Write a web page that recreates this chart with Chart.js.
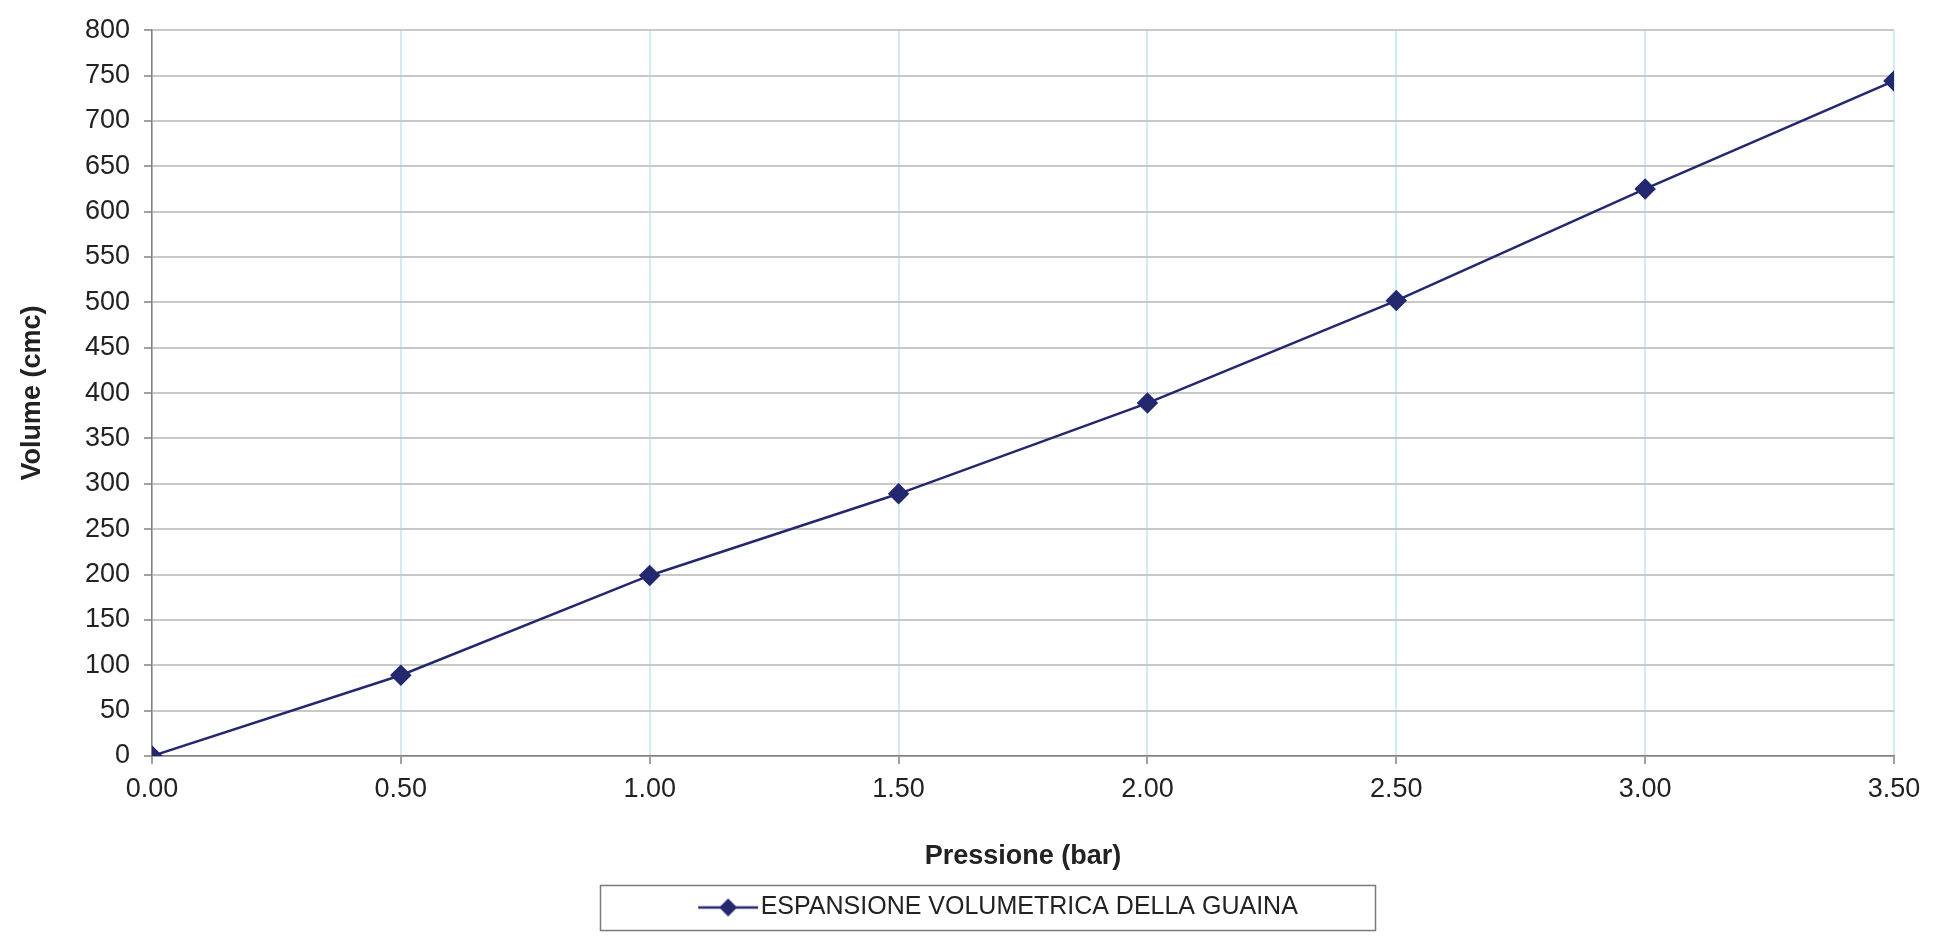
<!DOCTYPE html>
<html>
<head>
<meta charset="utf-8">
<script src="https://cdn.jsdelivr.net/npm/chart.js@4/dist/chart.umd.min.js"></script>
<style>
  body { margin: 0; background: #fff; }
</style>
</head>
<body>
<canvas id="chart" width="1944" height="938"></canvas>
<script>
// data
const pressure = [0, 0.5, 1.0, 1.5, 2.0, 2.5, 3.0, 3.5];
const volume = [0, 89, 199, 289, 389, 502, 625, 744];
const seriesName = 'ESPANSIONE VOLUMETRICA DELLA GUAINA';
const xTitle = 'Pressione (bar)';
const yTitle = 'Volume (cmc)';

const navy = '#24286f';
const fontFamily = '"Liberation Sans", Arial, sans-serif';

// legend icon: short line with a diamond in the middle
// (left part left empty so the icon sits closer to the text)
const icon = document.createElement('canvas');
icon.width = 92;
icon.height = 20;
(function () {
    const c = icon.getContext('2d');
    c.strokeStyle = navy;
    c.lineWidth = 2.5;
    c.beginPath();
    c.moveTo(32, 10);
    c.lineTo(92, 10);
    c.stroke();
    c.fillStyle = navy;
    c.beginPath();
    c.moveTo(62, 1);
    c.lineTo(71, 10);
    c.lineTo(62, 19);
    c.lineTo(53, 10);
    c.closePath();
    c.fill();
})();

// box round the legend like in the original
const legendBox = {
    id: 'legendBox',
    afterDraw(chart) {
        const lg = chart.legend;
        if (!lg || !lg.legendHitBoxes.length) return;
        const cx = (lg.left + lg.right) / 2;
        const w = 775;
        const ctx = chart.ctx;
        ctx.save();
        ctx.strokeStyle = '#7a7a7a';
        ctx.lineWidth = 1.5;
        ctx.strokeRect(Math.round(cx - w / 2) + 0.5, Math.round(lg.top) + 0.5, w, Math.round(lg.bottom - lg.top));
        ctx.restore();
    }
};

const points = pressure.map((p, i) => ({ x: p, y: volume[i] }));

new Chart(document.getElementById('chart'), {
    type: 'scatter',
    data: {
        datasets: [{
            label: seriesName,
            data: points,
            showLine: true,
            borderColor: navy,
            backgroundColor: navy,
            borderWidth: 2.5,
            pointStyle: 'rectRot',
            pointRadius: 9,
            pointHoverRadius: 9,
            tension: 0
        }]
    },
    options: {
        responsive: false,
        animation: false,
        layout: { padding: { top: 21, right: 50, bottom: 8, left: 80 } },
        plugins: {
            tooltip: { enabled: false },
            legend: {
                position: 'bottom',
                labels: {
                    usePointStyle: true,
                    pointStyleWidth: 72,
                    padding: 10,
                    color: '#222',
                    font: { family: fontFamily, size: 25 },
                    generateLabels(chart) {
                        const items = Chart.defaults.plugins.legend.labels.generateLabels(chart);
                        items.forEach(it => { it.pointStyle = icon; });
                        return items;
                    }
                }
            }
        },
        scales: {
            x: {
                type: 'linear',
                min: 0,
                max: 3.5,
                afterFit(scale) { scale.height = 129; },
                ticks: {
                    stepSize: 0.5,
                    padding: 9,
                    color: '#222',
                    font: { family: fontFamily, size: 27 },
                    callback: v => v.toFixed(2)
                },
                grid: {
                    color: '#d0ebf3',
                    lineWidth: 2,
                    tickColor: '#808080',
                    tickLength: 8,
                    tickWidth: 1.5
                },
                border: { color: '#808080', width: 1.5 },
                title: {
                    display: true,
                    text: xTitle,
                    color: '#222',
                    font: { family: fontFamily, size: 27, weight: 'bold' },
                    padding: { top: 0, bottom: 12 }
                }
            },
            y: {
                min: 0,
                max: 800,
                afterFit(scale) { scale.width = 72; },
                ticks: {
                    stepSize: 50,
                    padding: 14,
                    color: '#222',
                    font: { family: fontFamily, size: 27 }
                },
                grid: {
                    color: '#c8c8c8',
                    lineWidth: 2,
                    tickColor: '#808080',
                    tickLength: 8,
                    tickWidth: 1.5
                },
                border: { color: '#808080', width: 1.5 },
                title: {
                    display: true,
                    text: yTitle,
                    color: '#222',
                    font: { family: fontFamily, size: 27, weight: 'bold' },
                    padding: { top: -64, bottom: 0 }
                }
            }
        }
    },
    plugins: [legendBox]
});
</script>
</body>
</html>
